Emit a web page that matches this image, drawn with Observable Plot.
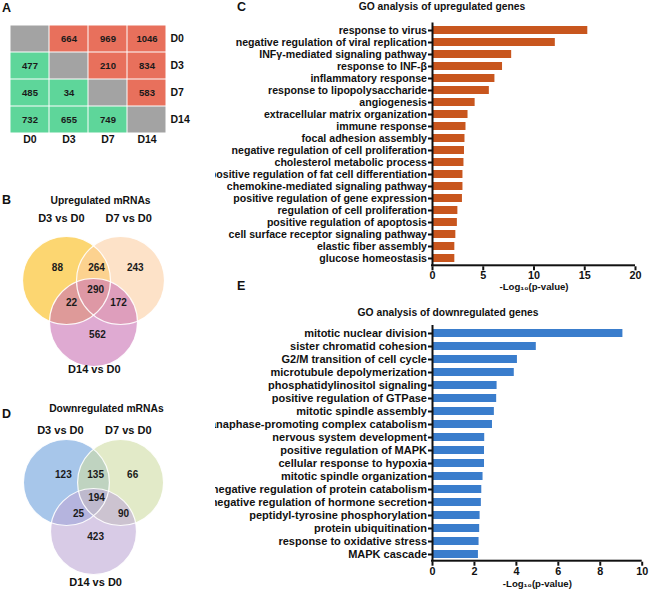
<!DOCTYPE html>
<html>
<head>
<meta charset="utf-8">
<script src="https://cdn.jsdelivr.net/npm/d3@7"></script>
<script src="https://cdn.jsdelivr.net/npm/@observablehq/plot@0.6"></script>
<style>
  body { margin: 0; background: #fff; }
  #fig { position: relative; width: 650px; height: 593px; overflow: hidden; background: #fff;
         font-family: "Liberation Sans", Arial, sans-serif; color: #111; }
  .panel { position: absolute; }
  .letter { position: absolute; font-weight: bold; font-size: 12.5px; line-height: 1; z-index: 5; }
  .title { position: absolute; font-weight: bold; font-size: 10.3px; line-height: 1; white-space: nowrap;
           transform: translate(-50%, -50%); z-index: 5; }
</style>
</head>
<body>
<div id="fig"></div>
<script>
// ---------------- DATA ----------------
// Panel A: pairwise numbers of differentially expressed mRNAs
const days = ["D0", "D3", "D7", "D14"];
const countsD0 = [null, 664, 969, 1046];
const countsD3 = [477, null, 210, 834];
const countsD7 = [485, 34, null, 583];
const countsD14 = [732, 655, 749, null];

// Panels B / D: Venn diagram counts
const vennSets = ["D3 vs D0", "D7 vs D0", "D14 vs D0"];
const vennRegions = ["D3 only", "D3&D7", "D7 only", "all", "D3&D14", "D7&D14", "D14 only"];
const upCounts = [88, 264, 243, 290, 22, 172, 562];
const downCounts = [123, 135, 66, 194, 25, 90, 423];

// Panel C: GO terms of upregulated genes, -log10(p)
const upTerms = [
  "response to virus", "negative regulation of viral replication", "INFγ-mediated signaling pathway",
  "response to INF-β", "inflammatory response", "response to lipopolysaccharide", "angiogenesis",
  "extracellular matrix organization", "immune response", "focal adhesion assembly",
  "negative regulation of cell proliferation", "cholesterol metabolic process",
  "positive regulation of fat cell differentiation", "chemokine-mediated signaling pathway",
  "positive regulation of gene expression", "regulation of cell proliferation",
  "positive regulation of apoptosis", "cell surface receptor signaling pathway",
  "elastic fiber assembly", "glucose homeostasis"
];
const upValues = [15.3, 12.1, 7.8, 6.9, 6.15, 5.6, 4.2, 3.5, 3.3, 3.2, 3.15, 3.1, 3.0, 3.0, 2.95, 2.5, 2.45, 2.3, 2.2, 2.2];
const upTicks = [0, 5, 10, 15, 20];

// Panel E: GO terms of downregulated genes, -log10(p)
const downTerms = [
  "mitotic nuclear division", "sister chromatid cohesion", "G2/M transition of cell cycle",
  "microtubule depolymerization", "phosphatidylinositol signaling", "positive regulation of GTPase",
  "mitotic spindle assembly", "anaphase-promoting complex catabolism", "nervous system development",
  "positive regulation of MAPK", "cellular response to hypoxia", "mitotic spindle organization",
  "negative regulation of protein catabolism", "negative regulation of hormone secretion",
  "peptidyl-tyrosine phosphorylation", "protein ubiquitination", "response to oxidative stress",
  "MAPK cascade"
];
const downValues = [9.08, 4.95, 4.05, 3.9, 3.08, 3.06, 2.95, 2.86, 2.49, 2.48, 2.48, 2.41, 2.35, 2.33, 2.27, 2.25, 2.22, 2.19];
const downTicks = [0, 2, 4, 6, 8, 10];

const xAxisLabel = "-Log₁₀(p-value)";

// ---------------- STYLE / LAYOUT ----------------
const FONT = '"Liberation Sans", Arial, sans-serif';
const INK = "#111";
const upColor = "#c8561e";
const downColor = "#3a7dcc";
const heatColors = {up: "#e8705c", down: "#5ed69a", same: "#a3a3a3"};
// semi-transparent circle colours (alpha-blended over white)
const vennAlpha = 0.6;
const upVennColors = ["#fabb12", "#fccfa3", "#ca71b4"];
const downVennColors = ["#6ca0dc", "#cfdca3", "#bea8d5"];

const fig = document.getElementById("fig");
function place(node, left, top, width, height) {
  const d = document.createElement("div");
  d.className = "panel";
  Object.assign(d.style, {left: left + "px", top: top + "px", width: width + "px", height: height + "px"});
  d.appendChild(node);
  fig.appendChild(d);
}
function addText(cls, txt, x, y) {
  const d = document.createElement("div");
  d.className = cls;
  d.textContent = txt;
  d.style.left = x + "px";
  d.style.top = y + "px";
  fig.appendChild(d);
}

// ---------------- PANEL A: heatmap ----------------
const rowsA = [countsD0, countsD3, countsD7, countsD14];
const cellsA = [];
rowsA.forEach((row, i) => row.forEach((v, j) => {
  cellsA.push({row: days[i], col: days[j], value: v, kind: j > i ? "up" : j < i ? "down" : "same"});
}));
const heat = Plot.plot({
  width: 215, height: 150,
  marginLeft: 10, marginRight: 49, marginTop: 24, marginBottom: 17,
  style: {fontFamily: FONT, color: INK, background: "white"},
  x: {domain: days, padding: 0},
  y: {domain: days, padding: 0},
  color: {domain: ["up", "down", "same"], range: [heatColors.up, heatColors.down, heatColors.same]},
  marks: [
    Plot.cell(cellsA, {x: "col", y: "row", fill: "kind", inset: 0.5}),
    Plot.text(cellsA.filter(d => d.value != null), {x: "col", y: "row", text: d => String(d.value),
      fontWeight: "bold", fontSize: 9.5, fill: "#1a1a1a"}),
    Plot.axisY({anchor: "right", tickSize: 0, tickPadding: 4, fontSize: 10.5, fontWeight: "bold", label: null}),
    Plot.axisX({anchor: "bottom", tickSize: 0, tickPadding: 2.5, fontSize: 10.5, fontWeight: "bold", label: null})
  ]
});
place(heat, 0, 0, 215, 150);

// ---------------- PANELS B & D: Venn diagrams ----------------
// geometry in units of circle radius, relative to the midpoint between the two top circles
const upVennLayout = {
  top: 190, height: 195, r: 44, origin: [93, 90],
  centers: [[-0.614, 0], [0.614, 0], [0, 0.955]],
  setLabels: [[-0.73, -1.41], [0.8, -1.41], [0.02, 2.02]],
  counts: [[-0.82, -0.30], [0.07, -0.30], [0.95, -0.30], [0.05, 0.20], [-0.5, 0.5], [0.57, 0.5], [0.09, 1.23]],
  title: [0.16, -1.82]
};
const downVennLayout = {
  top: 385, height: 208, r: 43, origin: [93, 97],
  centers: [[-0.63, 0], [0.63, 0], [0, 1.14]],
  setLabels: [[-0.77, -1.21], [0.81, -1.21], [0.05, 2.33]],
  counts: [[-0.70, -0.19], [0.05, -0.19], [0.91, -0.19], [0.07, 0.35], [-0.35, 0.72], [0.70, 0.72], [0.05, 1.26]],
  title: [0.30, -1.72]
};

function venn(titleText, counts, colors, L) {
  const W = 215, H = L.height, r = L.r, [ox, oy] = L.origin;
  const sets = vennSets.map((name, i) => ({name, cx: L.centers[i][0], cy: L.centers[i][1],
    lx: L.setLabels[i][0], ly: L.setLabels[i][1], color: colors[i]}));
  const regions = vennRegions.map((key, i) => ({key, n: counts[i], x: L.counts[i][0], y: L.counts[i][1]}));
  return Plot.plot({
    width: W, height: H, margin: 0,
    style: {fontFamily: FONT, color: INK, background: "white"},
    x: {domain: [-ox / r, (W - ox) / r], range: [0, W], axis: null},
    y: {domain: [-oy / r, (H - oy) / r], range: [0, H], axis: null},
    marks: [
      ...sets.map(s => Plot.dot([s], {x: "cx", y: "cy", r, fill: s.color, fillOpacity: vennAlpha})),
      Plot.dot(sets, {x: "cx", y: "cy", r, fill: "none", stroke: "white", strokeWidth: 1.2, strokeOpacity: 0.9}),
      Plot.text(regions, {x: "x", y: "y", text: d => String(d.n), fontWeight: "bold", fontSize: 10, fill: "#1a1a1a"}),
      Plot.text(sets, {x: "lx", y: "ly", text: "name", fontWeight: "bold", fontSize: 11, fill: INK}),
      Plot.text([titleText], {x: () => L.title[0], y: () => L.title[1], text: d => d, fontWeight: "bold", fontSize: 10.3, fill: INK})
    ]
  });
}
place(venn("Upregulated mRNAs", upCounts, upVennColors, upVennLayout), 0, upVennLayout.top, 215, upVennLayout.height);
place(venn("Downregulated mRNAs", downCounts, downVennColors, downVennLayout), 0, downVennLayout.top, 215, downVennLayout.height);

// ---------------- PANELS C & E: GO bar charts ----------------
function goBars(terms, values, ticks, color, cfg) {
  const rows = terms.map((term, i) => ({term, value: values[i]}));
  const domain = [ticks[0], ticks[ticks.length - 1]];
  const frameH = cfg.height - cfg.marginTop - cfg.marginBottom;
  return Plot.plot({
    width: 435, height: cfg.height,
    marginLeft: 217, marginRight: cfg.marginRight, marginTop: cfg.marginTop, marginBottom: cfg.marginBottom,
    style: {fontFamily: FONT, fontWeight: "bold", color: INK, background: "white"},
    x: {domain},
    y: {domain: terms, paddingInner: cfg.pi, paddingOuter: cfg.po},
    marks: [
      Plot.barX(rows, {x: "value", y: "term", fill: color}),
      Plot.ruleX([0], {stroke: INK, strokeWidth: 2}),
      Plot.rect([domain], {x1: d => d[0], x2: d => d[1], fill: INK, insetTop: frameH - 2, insetLeft: -1}),
      Plot.axisY({tickSize: 4, tickPadding: 1.5, strokeWidth: 2, fontSize: cfg.labelSize, fontWeight: "bold", label: null}),
      Plot.axisX({ticks, tickSize: 4, tickPadding: 1, strokeWidth: 2, fontSize: 10.8, fontWeight: "bold", label: null}),
      Plot.text([xAxisLabel], {frameAnchor: "bottom", dy: cfg.labelDy, text: d => d, fontSize: 9.6, fontWeight: "bold", fill: INK})
    ]
  });
}
place(goBars(upTerms, upValues, upTicks, upColor, {
  height: 300, marginTop: 22.5, marginBottom: 33.7, marginRight: 15,
  pi: 0.33, po: 0.2, labelSize: 10.6, labelDy: 23
}), 215, 0, 435, 300);
place(goBars(downTerms, downValues, downTicks, downColor, {
  height: 293, marginTop: 25, marginBottom: 31.3, marginRight: 8.3,
  pi: 0.37, po: 0.22, labelSize: 11, labelDy: 24.5
}), 215, 300, 435, 293);

// ---------------- panel letters & titles ----------------
addText("letter", "A", 2, 2);
addText("letter", "B", 2, 194);
addText("letter", "C", 237, 1);
addText("letter", "D", 2, 408);
addText("letter", "E", 237, 280);
addText("title", "GO analysis of upregulated genes", 442, 7);
addText("title", "GO analysis of downregulated genes", 448, 313);
</script>
</body>
</html>
